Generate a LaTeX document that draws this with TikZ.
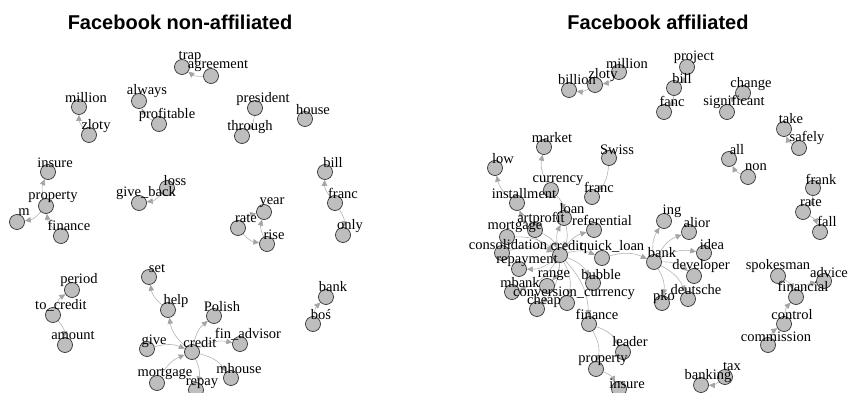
\documentclass[tikz,border=0pt]{standalone}
\usepackage{fontspec}
\setmainfont{Liberation Serif}
\newfontfamily\titlefont{Liberation Sans}
\usetikzlibrary{arrows.meta,backgrounds}
\definecolor{edgegray}{RGB}{180,180,180}
\definecolor{tipgray}{RGB}{165,165,165}
\definecolor{vtxgray}{RGB}{190,190,190}

\begin{document}
\begin{tikzpicture}[x=1pt, y=-1pt,
  main/.style = {circle, draw=black!80, fill=vtxgray, line width=0.7pt, minimum size=15pt, inner sep=0pt},
  lbl/.style = {inner sep=0pt, text height=0.55em, text depth=0pt, font=\fontsize{14.5pt}{15pt}\selectfont},
  ttl/.style = {inner sep=0pt, font=\titlefont\bfseries\fontsize{20pt}{22pt}\selectfont},
  arr/.style = {-{Triangle[length=6pt,width=5.5pt,color=tipgray]}, draw=edgegray, line width=0.6pt, bend left=20}]
\path[use as bounding box] (0,0) rectangle (849,393);

% titles
\node[ttl] (title-n) at (180,22) {Facebook non-affiliated};
\node[ttl] (title-a) at (658,22) {Facebook affiliated};

% Facebook non-affiliated
\node[main] (n-trap)       at (182,67) {};
\node[main] (n-agreement)  at (211,76) {};
\node[main] (n-always)     at (139,101) {};
\node[main] (n-profitable) at (159,124) {};
\node[main] (n-million)    at (79,107) {};
\node[main] (n-zloty)      at (89,135) {};
\node[main] (n-president)  at (255,108) {};
\node[main] (n-through)    at (242,136) {};
\node[main] (n-house)      at (305,119) {};
\node[main] (n-bill)       at (325,172) {};
\node[main] (n-franc)      at (335,203) {};
\node[main] (n-only)       at (343,235) {};
\node[main] (n-insure)     at (48,172) {};
\node[main] (n-property)   at (46,206) {};
\node[main] (n-m)          at (17,222) {};
\node[main] (n-finance)    at (61,236) {};
\node[main] (n-giveback)   at (139,203) {};
\node[main] (n-loss)       at (167,188) {};
\node[main] (n-year)       at (264,212) {};
\node[main] (n-rate)       at (238,228) {};
\node[main] (n-rise)       at (267,244) {};
\node[main] (n-set)        at (149,277) {};
\node[main] (n-help)       at (168,310) {};
\node[main] (n-period)     at (72,290) {};
\node[main] (n-tocredit)   at (53,315) {};
\node[main] (n-amount)     at (65,345) {};
\node[main] (n-polish)     at (214,316) {};
\node[main] (n-finadvisor) at (240,344) {};
\node[main] (n-credit)     at (192,352) {};
\node[main] (n-give)       at (147,349) {};
\node[main] (n-mortgage)   at (157,383) {};
\node[main] (n-repay)      at (196,390) {};
\node[main] (n-mhouse)     at (231,378) {};
\node[main] (n-bank)       at (326,297) {};
\node[main] (n-bos)        at (313,324) {};

% Facebook affiliated
\node[main] (a-million)      at (619,72) {};
\node[main] (a-zloty)        at (595,85) {};
\node[main] (a-billion)      at (569,90) {};
\node[main] (a-project)      at (687,67) {};
\node[main] (a-bill)         at (674,88) {};
\node[main] (a-fanc)         at (664,112) {};
\node[main] (a-change)       at (743,93) {};
\node[main] (a-significant)  at (727,112) {};
\node[main] (a-take)         at (784,129) {};
\node[main] (a-safely)       at (799,148) {};
\node[main] (a-all)          at (729,159) {};
\node[main] (a-non)          at (748,177) {};
\node[main] (a-frank)        at (813,188) {};
\node[main] (a-rate)         at (803,212) {};
\node[main] (a-fall)         at (820,232) {};
\node[main] (a-market)       at (544,147) {};
\node[main] (a-swiss)        at (609,158) {};
\node[main] (a-low)          at (495,168) {};
\node[main] (a-currency)     at (551,190) {};
\node[main] (a-franc)        at (592,197) {};
\node[main] (a-installment)  at (517,203) {};
\node[main] (a-loan)         at (564,218) {};
\node[main] (a-artprofit)    at (535,230) {};
\node[main] (a-referential)  at (594,230) {};
\node[main] (a-mortgage)     at (507,237) {};
\node[main] (a-consolidation) at (502,253) {};
\node[main] (a-credit)       at (560,255) {};
\node[main] (a-quickloan)    at (602,258) {};
\node[main] (a-repayment)    at (519,269) {};
\node[main] (a-range)        at (547,286) {};
\node[main] (a-bubble)       at (593,283) {};
\node[main] (a-mbank)        at (512,292) {};
\node[main] (a-conversion)   at (567,303) {};
\node[main] (a-cheap)        at (537,309) {};
\node[main] (a-finance)      at (589,324) {};
\node[main] (a-leader)       at (623,352) {};
\node[main] (a-property)     at (596,369) {};
\node[main] (a-insure)       at (619,389) {};
\node[main] (a-bank)         at (654,262) {};
\node[main] (a-ing)          at (664,221) {};
\node[main] (a-alior)        at (689,232) {};
\node[main] (a-idea)         at (704,253) {};
\node[main] (a-developer)    at (694,276) {};
\node[main] (a-pko)          at (662,303) {};
\node[main] (a-deutsche)     at (688,299) {};
\node[main] (a-spokesman)    at (778,276) {};
\node[main] (a-advice)       at (824,281) {};
\node[main] (a-financial)    at (796,297) {};
\node[main] (a-control)      at (784,324) {};
\node[main] (a-commission)   at (768,345) {};
\node[main] (a-banking)      at (701,385) {};
\node[main] (a-tax)          at (725,377) {};

\begin{scope}[on background layer]
\draw[arr] (n-agreement) to (n-trap);
\draw[arr] (n-profitable) to (n-always);
\draw[arr] (n-zloty) to (n-million);
\draw[arr] (n-president) to (n-through);
\draw[arr] (n-franc) to (n-bill);
\draw[arr] (n-franc) to (n-only);
\draw[arr] (n-property) to (n-insure);
\draw[arr] (n-property) to (n-m);
\draw[arr] (n-finance) to (n-property);
\draw[arr] (n-loss) to (n-giveback);
\draw[arr] (n-rate) to (n-year);
\draw[arr, bend right=20] (n-rate) to (n-rise);
\draw[arr] (n-rise) to (n-year);
\draw[arr] (n-help) to (n-set);
\draw[arr] (n-tocredit) to (n-period);
\draw[arr] (n-tocredit) to (n-amount);
\draw[arr] (n-credit) to (n-help);
\draw[arr] (n-credit) to (n-polish);
\draw[arr] (n-credit) to (n-finadvisor);
\draw[arr] (n-give) to (n-credit);
\draw[arr] (n-mortgage) to (n-credit);
\draw[arr] (n-credit) to (n-repay);
\draw[arr] (n-credit) to (n-mhouse);
\draw[arr] (n-bos) to (n-bank);

\draw[arr] (a-million) to (a-zloty);
\draw[arr] (a-zloty) to (a-billion);
\draw[arr] (a-project) to (a-bill);
\draw[arr] (a-bill) to (a-fanc);
\draw[arr] (a-significant) to (a-change);
\draw[arr] (a-safely) to (a-take);
\draw[arr] (a-non) to (a-all);
\draw[arr] (a-frank) to (a-rate);
\draw[arr] (a-rate) to (a-fall);
\draw[arr] (a-currency) to (a-market);
\draw[arr] (a-swiss) to (a-franc);
\draw[arr] (a-installment) to (a-low);
\draw[arr] (a-credit) to (a-installment);
\draw[arr] (a-currency) to (a-loan);
\draw[arr] (a-credit) to (a-loan);
\draw[arr] (a-loan) to (a-credit);
\draw[arr] (a-artprofit) to (a-credit);
\draw[arr] (a-credit) to (a-referential);
\draw[arr] (a-mortgage) to (a-credit);
\draw[arr] (a-consolidation) to (a-credit);
\draw[arr] (a-credit) to (a-repayment);
\draw[arr] (a-credit) to (a-range);
\draw[arr] (a-credit) to (a-mbank);
\draw[arr] (a-credit) to (a-conversion);
\draw[arr] (a-credit) to (a-cheap);
\draw[arr] (a-credit) to (a-bubble);
\draw[arr] (a-credit) to (a-finance);
\draw[arr] (a-credit) to (a-quickloan);
\draw[arr] (a-quickloan) to (a-bank);
\draw[arr] (a-finance) to (a-leader);
\draw[arr] (a-finance) to (a-property);
\draw[arr] (a-property) to (a-insure);
\draw[arr] (a-bank) to (a-ing);
\draw[arr] (a-bank) to (a-alior);
\draw[arr] (a-bank) to (a-idea);
\draw[arr] (a-bank) to (a-developer);
\draw[arr] (a-bank) to (a-pko);
\draw[arr] (a-bank) to (a-deutsche);
\draw[arr] (a-spokesman) to (a-financial);
\draw[arr] (a-financial) to (a-advice);
\draw[arr] (a-control) to (a-financial);
\draw[arr] (a-commission) to (a-control);
\draw[arr] (a-tax) to (a-banking);
\end{scope}

% labels
\node[lbl] (n-trap-t)       at (190,57) {trap};
\node[lbl] (n-agreement-t)  at (218,66) {agreement};
\node[lbl] (n-always-t)     at (147,92) {always};
\node[lbl] (n-profitable-t) at (167,116) {profitable};
\node[lbl] (n-million-t)    at (86,100) {million};
\node[lbl] (n-zloty-t)      at (96,127) {zloty};
\node[lbl] (n-president-t)  at (263,100) {president};
\node[lbl] (n-through-t)    at (250,128) {through};
\node[lbl] (n-house-t)      at (313,112) {house};
\node[lbl] (n-bill-t)       at (333,165) {bill};
\node[lbl] (n-franc-t)      at (343,196) {franc};
\node[lbl] (n-only-t)       at (350,227) {only};
\node[lbl] (n-insure-t)     at (55,165) {insure};
\node[lbl] (n-property-t)   at (53,197) {property};
\node[lbl] (n-m-t)          at (24,213) {m};
\node[lbl] (n-finance-t)    at (69,228) {finance};
\node[lbl] (n-giveback-t)   at (146,194) {give\_back};
\node[lbl] (n-loss-t)       at (175,183) {loss};
\node[lbl] (n-year-t)       at (272,202) {year};
\node[lbl] (n-rate-t)       at (246,220) {rate};
\node[lbl] (n-rise-t)       at (274,237) {rise};
\node[lbl] (n-set-t)        at (157,270) {set};
\node[lbl] (n-help-t)       at (176,302) {help};
\node[lbl] (n-period-t)     at (79,281) {period};
\node[lbl] (n-tocredit-t)   at (61,307) {to\_credit};
\node[lbl] (n-amount-t)     at (73,337) {amount};
\node[lbl] (n-polish-t)     at (222,309) {Polish};
\node[lbl] (n-finadvisor-t) at (248,336) {fin\_advisor};
\node[lbl] (n-credit-t)     at (200,345) {credit};
\node[lbl] (n-give-t)       at (154,342) {give};
\node[lbl] (n-mortgage-t)   at (165,374) {mortgage};
\node[lbl] (n-repay-t)      at (202,383) {repay};
\node[lbl] (n-mhouse-t)     at (239,371) {mhouse};
\node[lbl] (n-bank-t)       at (333,289) {bank};
\node[lbl] (n-bos-t)        at (321,317) {boś};

\node[lbl] (a-million-t)     at (627,66) {million};
\node[lbl] (a-zloty-t)       at (603,76) {zloty};
\node[lbl] (a-billion-t)     at (577,82) {billion};
\node[lbl] (a-project-t)     at (694,58) {project};
\node[lbl] (a-bill-t)        at (682,81) {bill};
\node[lbl] (a-fanc-t)        at (672,104) {fanc};
\node[lbl] (a-change-t)      at (751,85) {change};
\node[lbl] (a-significant-t) at (734,103) {significant};
\node[lbl] (a-take-t)        at (791,121) {take};
\node[lbl] (a-safely-t)      at (807,139) {safely};
\node[lbl] (a-all-t)         at (737,152) {all};
\node[lbl] (a-non-t)         at (756,168) {non};
\node[lbl] (a-frank-t)       at (821,182) {frank};
\node[lbl] (a-rate-t)        at (811,204) {rate};
\node[lbl] (a-fall-t)        at (827,224) {fall};
\node[lbl] (a-market-t)      at (552,140) {market};
\node[lbl] (a-swiss-t)       at (617,152) {Swiss};
\node[lbl] (a-low-t)         at (503,161) {low};
\node[lbl] (a-currency-t)    at (558,180) {currency};
\node[lbl] (a-franc-t)       at (599,190) {franc};
\node[lbl] (a-installment-t) at (524,196) {installment};
\node[lbl] (a-loan-t)        at (572,211) {loan};
\node[lbl] (a-artprofit-t)   at (541,220) {artprofit};
\node[lbl] (a-referential-t) at (602,223) {referential};
\node[lbl] (a-mortgage-t)    at (515,227) {mortgage};
\node[lbl] (a-consolidation-t) at (508,247) {consolidation};
\node[lbl] (a-credit-t)      at (567,248) {credit};
\node[lbl] (a-quickloan-t)   at (612,248) {quick\_loan};
\node[lbl] (a-repayment-t)   at (527,261) {repayment};
\node[lbl] (a-range-t)       at (554,275) {range};
\node[lbl] (a-bubble-t)      at (601,277) {bubble};
\node[lbl] (a-mbank-t)       at (520,285) {mbank};
\node[lbl] (a-conversion-t)  at (574,294) {conversion\_currency};
\node[lbl] (a-cheap-t)       at (544,302) {cheap};
\node[lbl] (a-finance-t)     at (597,317) {finance};
\node[lbl] (a-leader-t)      at (630,344) {leader};
\node[lbl] (a-property-t)    at (603,360) {property};
\node[lbl] (a-insure-t)      at (627,386) {insure};
\node[lbl] (a-bank-t)        at (662,255) {bank};
\node[lbl] (a-ing-t)         at (672,212) {ing};
\node[lbl] (a-alior-t)       at (697,225) {alior};
\node[lbl] (a-idea-t)        at (712,247) {idea};
\node[lbl] (a-developer-t)   at (701,267) {developer};
\node[lbl] (a-pko-t)         at (664,298) {pko};
\node[lbl] (a-deutsche-t)    at (696,292) {deutsche};
\node[lbl] (a-spokesman-t)   at (778,267) {spokesman};
\node[lbl] (a-advice-t)      at (829,275) {advice};
\node[lbl] (a-financial-t)   at (803,289) {financial};
\node[lbl] (a-control-t)     at (792,317) {control};
\node[lbl] (a-commission-t)  at (776,339) {commission};
\node[lbl] (a-banking-t)     at (708,377) {banking};
\node[lbl] (a-tax-t)         at (732,368) {tax};

\end{tikzpicture}
\end{document}
